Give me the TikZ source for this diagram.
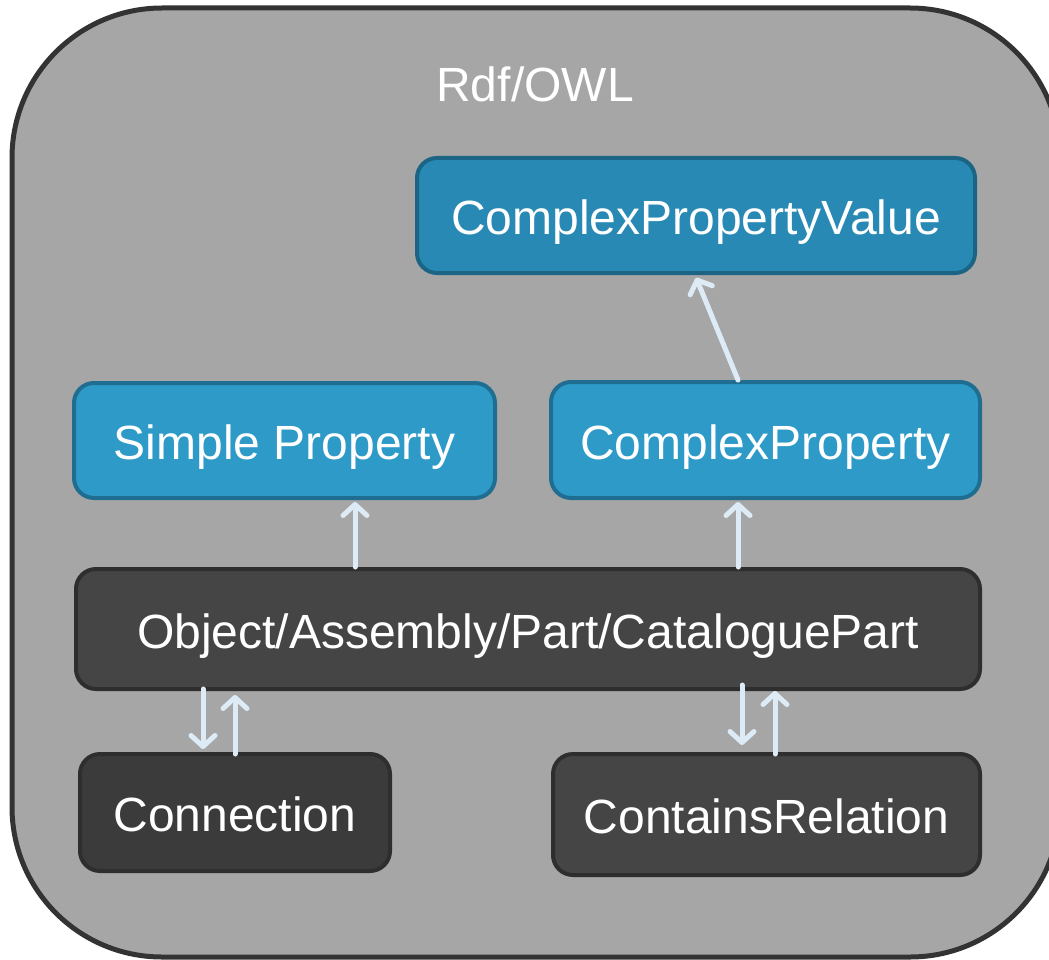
\documentclass[tikz,border=0pt]{standalone}
\usepackage{fontspec}
\setmainfont{Liberation Sans}
\usetikzlibrary{arrows.meta}
\definecolor{outerfill}{HTML}{A6A6A6}
\definecolor{outerline}{HTML}{333333}
\definecolor{bluefill}{HTML}{2E9AC8}
\definecolor{blueline}{HTML}{1F6E92}
\definecolor{bluefillB}{HTML}{2889B4}
\definecolor{bluelineB}{HTML}{1C6483}
\definecolor{darkfill}{HTML}{454545}
\definecolor{darkfillB}{HTML}{3B3B3B}
\definecolor{darkline}{HTML}{2E2E2E}
\definecolor{arrowcol}{HTML}{DDEBF7}
\tikzset{
  boxbase/.style={rounded corners=20pt, line width=4pt, text=white, inner sep=0pt,
    text height=38pt, text depth=0pt,
    font=\fontsize{48}{56}\selectfont},
  bluebox/.style={boxbase, draw=blueline, fill=bluefill},
  blueboxB/.style={boxbase, draw=bluelineB, fill=bluefillB},
  darkbox/.style={boxbase, draw=darkline, fill=darkfill},
  darkboxB/.style={boxbase, draw=darkline, fill=darkfillB},
  arr/.style={draw=arrowcol, line width=5pt, line cap=round,
    -{Straight Barb[length=11pt,width=24pt,round]}},
}
\begin{document}
\begin{tikzpicture}[x=1pt,y=-1pt]
\useasboundingbox (0,0) rectangle (1049,960);
\draw[line width=5pt, draw=outerline, fill=outerfill, rounded corners=150pt]
  (12,8) rectangle (1060,957);
\node[text=white, font=\fontsize{48}{56}\selectfont] (title) at (535,84) {Rdf/OWL};
\node[blueboxB, minimum width=558pt, minimum height=115pt] (cpv) at (696,215.5) {ComplexPropertyValue};
\node[bluebox, minimum width=421pt, minimum height=115pt] (sp) at (284.5,440.5) {Simple Property};
\node[bluebox, minimum width=429pt, minimum height=116pt] (cp) at (765.5,440) {ComplexProperty};
\node[darkbox, minimum width=904pt, minimum height=120pt] (obj) at (528,629) {Object/Assembly/Part/CataloguePart};
\node[darkboxB, minimum width=310pt, minimum height=117pt] (conn) at (235,812.5) {Connection};
\node[darkbox, minimum width=427pt, minimum height=121pt] (cr) at (766.5,814.5) {ContainsRelation};
% x positions of connectors
\coordinate (xa) at (738,0);
\coordinate (xb) at (695,0);
\coordinate (xs) at (355,0);
\coordinate (xc1) at (203,0);
\coordinate (xc2) at (235,0);
\coordinate (xr1) at (742,0);
\coordinate (xr2) at (775,0);
\draw[arr, shorten >=3pt] (cp.north -| xa) -- (cpv.south -| xb);
\draw[arr, shorten >=2pt] (obj.north -| xs) -- (sp.south -| xs);
\draw[arr, shorten >=2pt] (obj.north -| xa) -- (cp.south -| xa);
\draw[arr, shorten <=-2pt, shorten >=3pt] (obj.south -| xc1) -- (conn.north -| xc1);
\draw[arr, shorten <=-2pt, shorten >=4pt] (conn.north -| xc2) -- (obj.south -| xc2);
\draw[arr, shorten <=-6pt, shorten >=7pt] (obj.south -| xr1) -- (cr.north -| xr1);
\draw[arr, shorten <=-2pt, shorten >=0pt] (cr.north -| xr2) -- (obj.south -| xr2);
\end{tikzpicture}
\end{document}
